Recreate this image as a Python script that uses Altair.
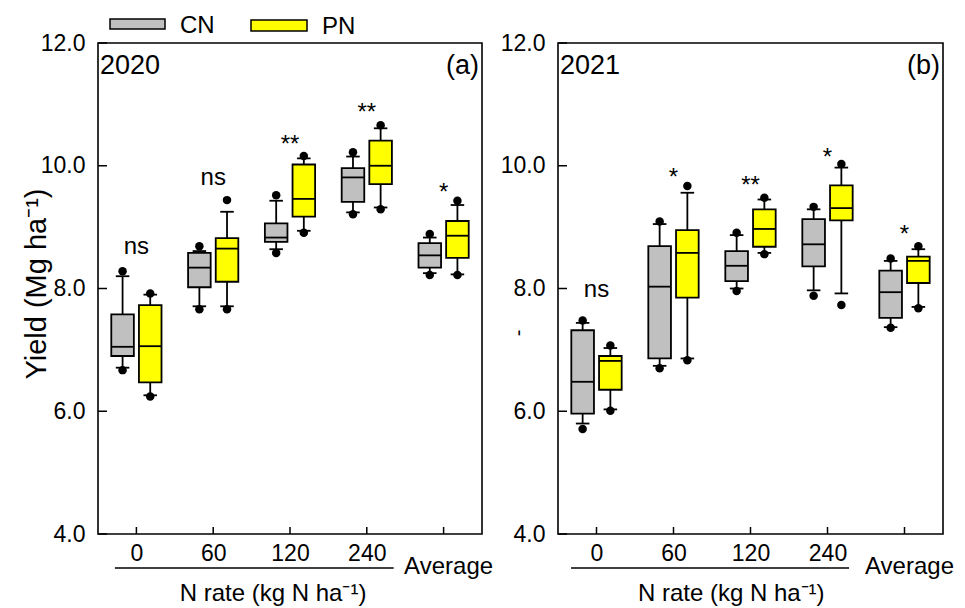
import altair as alt
import pandas as pd

# ---------------- data ----------------
GROUP_LABELS = ["0", "60", "120", "240", "Average"]
TREATMENTS = ["CN", "PN"]
COLORS = ["#c0c0c0", "#ffff00"]
Y_TICKS = [4, 6, 8, 10, 12]

# order: 0-CN, 0-PN, 60-CN, 60-PN, 120-CN, 120-PN, 240-CN, 240-PN, Avg-CN, Avg-PN
lo_dot_2020 = [6.67, 6.24, 7.66, 7.66, 8.58, 8.91, 9.21, 9.29, 8.22, 8.22]
lo_cap_2020 = [6.71, 6.26, 7.71, 7.71, 8.64, 8.94, 9.24, 9.32, 8.25, 8.23]
q1_2020     = [6.90, 6.47, 8.02, 8.11, 8.76, 9.17, 9.41, 9.70, 8.34, 8.50]
med_2020    = [7.05, 7.06, 8.34, 8.65, 8.83, 9.46, 9.81, 10.00, 8.54, 8.86]
q3_2020     = [7.58, 7.73, 8.58, 8.82, 9.06, 10.02, 9.96, 10.41, 8.74, 9.10]
hi_cap_2020 = [8.20, 7.90, 8.61, 9.25, 9.43, 10.12, 10.15, 10.61, 8.83, 9.36]
hi_dot_2020 = [8.28, 7.92, 8.69, 9.44, 9.52, 10.16, 10.22, 10.66, 8.89, 9.43]

lo_dot_2021 = [5.71, 6.01, 6.70, 6.83, 7.96, 8.56, 7.88, 7.73, 7.36, 7.68]
lo_cap_2021 = [5.80, 6.03, 6.74, 6.86, 8.00, 8.58, 7.97, 7.92, 7.37, 7.70]
q1_2021     = [5.96, 6.35, 6.86, 7.85, 8.12, 8.68, 8.36, 9.11, 7.52, 8.09]
med_2021    = [6.48, 6.82, 8.03, 8.58, 8.37, 8.97, 8.72, 9.31, 7.94, 8.45]
q3_2021     = [7.32, 6.90, 8.69, 8.95, 8.61, 9.29, 9.13, 9.68, 8.29, 8.52]
hi_cap_2021 = [7.44, 7.03, 9.05, 9.56, 8.87, 9.45, 9.29, 9.97, 8.45, 8.64]
hi_dot_2021 = [7.48, 7.07, 9.09, 9.67, 8.91, 9.48, 9.33, 10.03, 8.49, 8.69]

sig_2020 = ["ns", "ns", "**", "**", "*"]
sig_y_2020 = [8.56, 9.68, 10.23, 10.745, 9.44]
sig_2021 = ["ns", "*", "**", "*", "*"]
sig_y_2021 = [7.86, 9.69, 9.556, 10.02, 8.76]

FONT = "Liberation Sans"
H = 491
BLACK = "black"
SW = 1.8


def make_df(lo_dot, lo_cap, q1, med, q3, hi_cap, hi_dot):
    n = len(GROUP_LABELS)
    return pd.DataFrame({
        "gi": [g for g in range(n) for _ in TREATMENTS],
        "trt": TREATMENTS * n,
        "lo_dot": lo_dot, "lo_cap": lo_cap, "q1": q1, "med": med,
        "q3": q3, "hi_cap": hi_cap, "hi_dot": hi_dot,
    })


label_expr = "[" + ",".join("'%s'" % g for g in GROUP_LABELS[:4]) + "][datum.value]"


def panel(df, sig, sig_y, year_label, corner_label, width, left, xtitle_pos,
          line_from, line_to):
    xs = alt.Scale(domain=[-0.5, 4.5], nice=False, zero=False)
    ys = alt.Scale(domain=[4, 12], nice=False, zero=False)
    one = pd.DataFrame({"k": [0]})

    xaxis = alt.Axis(values=[0, 1, 2, 3], labelExpr=label_expr, title=None,
                     labelPadding=8, labelFlush=False, domain=False, grid=False,
                     ticks=False, tickSize=0, labelFont=FONT, labelFontSize=23,
                     labelColor=BLACK)
    if left:
        yaxis = alt.Axis(values=Y_TICKS, format=".1f", labelPadding=13,
                         domain=False, grid=False, ticks=False, tickSize=0,
                         labelFont=FONT, labelFontSize=23, labelColor=BLACK,
                         title="Yield (Mg ha\u207b\u00b9)", titleFontSize=29,
                         titleFont=FONT, titleColor=BLACK,
                         titleFontWeight="normal", titleAngle=270,
                         titleBaseline="bottom", titleAlign="center",
                         titleX=-47, titleY=H / 2 - 5)
    else:
        yaxis = alt.Axis(values=Y_TICKS, format=".1f", labelPadding=13,
                         domain=False, grid=False, ticks=False, tickSize=0,
                         labelFont=FONT, labelFontSize=23, labelColor=BLACK,
                         title=None)

    def X(field):
        return alt.X(field, scale=xs, axis=xaxis)

    def Y(field):
        return alt.Y(field, scale=ys, axis=yaxis)

    base = alt.Chart(df).transform_calculate(
        pos="datum.gi + (datum.trt == 'CN' ? -0.18 : 0.18)"
    ).transform_calculate(
        bl="datum.pos - 0.147", br="datum.pos + 0.147",
        cl="datum.pos - 0.088", cr="datum.pos + 0.088",
    )

    whisk_lo = base.mark_rule(color=BLACK, strokeWidth=SW).encode(
        x=X("pos:Q"), y=Y("lo_cap:Q"), y2="q1:Q")
    whisk_hi = base.mark_rule(color=BLACK, strokeWidth=SW).encode(
        x=X("pos:Q"), y=Y("q3:Q"), y2="hi_cap:Q")
    box = base.mark_rect(stroke=BLACK, strokeWidth=SW).encode(
        x=X("bl:Q"), x2="br:Q", y=Y("q1:Q"), y2="q3:Q",
        color=alt.Color("trt:N", scale=alt.Scale(domain=TREATMENTS, range=COLORS),
                        legend=None))
    median = base.mark_rule(color=BLACK, strokeWidth=SW).encode(
        x=X("bl:Q"), x2="br:Q", y=Y("med:Q"))
    cap_lo = base.mark_rule(color=BLACK, strokeWidth=SW).encode(
        x=X("cl:Q"), x2="cr:Q", y=Y("lo_cap:Q"))
    cap_hi = base.mark_rule(color=BLACK, strokeWidth=SW).encode(
        x=X("cl:Q"), x2="cr:Q", y=Y("hi_cap:Q"))
    dots = base.transform_fold(["lo_dot", "hi_dot"], as_=["k", "v"]).mark_circle(
        color=BLACK, size=72, opacity=1).encode(x=X("pos:Q"), y=Y("v:Q"))

    sig_df = pd.DataFrame({"gi": list(range(len(sig))), "s": sig, "sy": sig_y})
    sig_text = alt.Chart(sig_df).mark_text(fontSize=24, baseline="alphabetic",
                                           align="center").encode(
        x=X("gi:Q"), y=Y("sy:Q"), text="s:N")

    ytick = alt.Chart(pd.DataFrame({"v": Y_TICKS})).mark_rule(
        color=BLACK, strokeWidth=1.5).encode(
        y=Y("v:Q"), x=alt.value(0), x2=alt.value(9))
    xtick = alt.Chart(pd.DataFrame({"g": list(range(len(GROUP_LABELS)))})).mark_rule(
        color=BLACK, strokeWidth=1.5).encode(
        x=X("g:Q"), y=alt.value(H), y2=alt.value(H - 7))

    avg_text = alt.Chart(pd.DataFrame({"g": [4], "t": [GROUP_LABELS[4]]})).mark_text(
        fontSize=24, baseline="alphabetic", align="center", dx=5).encode(
        x=X("g:Q"), y=alt.value(H + 40), text="t:N")
    underline = alt.Chart(one).mark_rule(color=BLACK, strokeWidth=1.5).encode(
        x=alt.X(datum=line_from, type="quantitative", scale=xs, axis=xaxis),
        x2=alt.X2(datum=line_to), y=alt.value(H + 34))
    xtitle = alt.Chart(one).mark_text(fontSize=24, baseline="alphabetic",
                                      align="center",
                                      text="N rate (kg N ha\u207b\u00b9)").encode(
        x=alt.X(datum=xtitle_pos, type="quantitative", scale=xs, axis=xaxis),
        y=alt.value(H + 67))

    year_t = alt.Chart(one).mark_text(fontSize=27, baseline="alphabetic",
                                      align="left", text=year_label).encode(
        x=alt.value(2), y=alt.value(31))
    corner_t = alt.Chart(one).mark_text(fontSize=27, baseline="alphabetic",
                                        align="right", text=corner_label).encode(
        x=alt.value(width - 3), y=alt.value(31))

    layers = [whisk_lo, whisk_hi, box, median, cap_lo, cap_hi, dots, sig_text,
              ytick, xtick, avg_text, underline, xtitle, year_t, corner_t]

    if left:
        leg_gray = alt.Chart(one).mark_rect(fill=COLORS[0], stroke=BLACK,
                                            strokeWidth=1.5).encode(
            x=alt.value(12), x2=alt.value(67), y=alt.value(-24), y2=alt.value(-14))
        leg_gray_t = alt.Chart(one).mark_text(fontSize=24, baseline="alphabetic",
                                              align="left", text=TREATMENTS[0]).encode(
            x=alt.value(82), y=alt.value(-10))
        leg_yel = alt.Chart(one).mark_rect(fill=COLORS[1], stroke=BLACK,
                                           strokeWidth=1.5).encode(
            x=alt.value(153), x2=alt.value(209), y=alt.value(-23), y2=alt.value(-12))
        leg_yel_t = alt.Chart(one).mark_text(fontSize=24, baseline="alphabetic",
                                             align="left", text=TREATMENTS[1]).encode(
            x=alt.value(224), y=alt.value(-9))
        layers += [leg_gray, leg_gray_t, leg_yel, leg_yel_t]
    else:
        dash = alt.Chart(one).mark_text(fontSize=20, angle=270, baseline="middle",
                                        align="center", text="-").encode(
            x=alt.value(-39), y=alt.value(290))
        layers += [dash]

    return alt.layer(*layers).properties(width=width, height=H)


df20 = make_df(lo_dot_2020, lo_cap_2020, q1_2020, med_2020, q3_2020, hi_cap_2020, hi_dot_2020)
df21 = make_df(lo_dot_2021, lo_cap_2021, q1_2021, med_2021, q3_2021, hi_cap_2021, hi_dot_2021)

left_chart = panel(df20, sig_2020, sig_y_2020, "2020", "(a)", 384, True, 1.78, -0.28, 3.35)
right_chart = panel(df21, sig_2021, sig_y_2021, "2021", "(b)", 385, False, 1.75, -0.33, 3.28)

chart = alt.hconcat(left_chart, right_chart, spacing=5).properties(
    padding={"left": 13, "top": 5, "right": 0, "bottom": 0},
    background="white",
).configure_view(
    stroke=BLACK, strokeWidth=1.6
).configure_text(font=FONT, color=BLACK)

chart.save("out.html", embed_options={"renderer": "svg", "actions": False})
